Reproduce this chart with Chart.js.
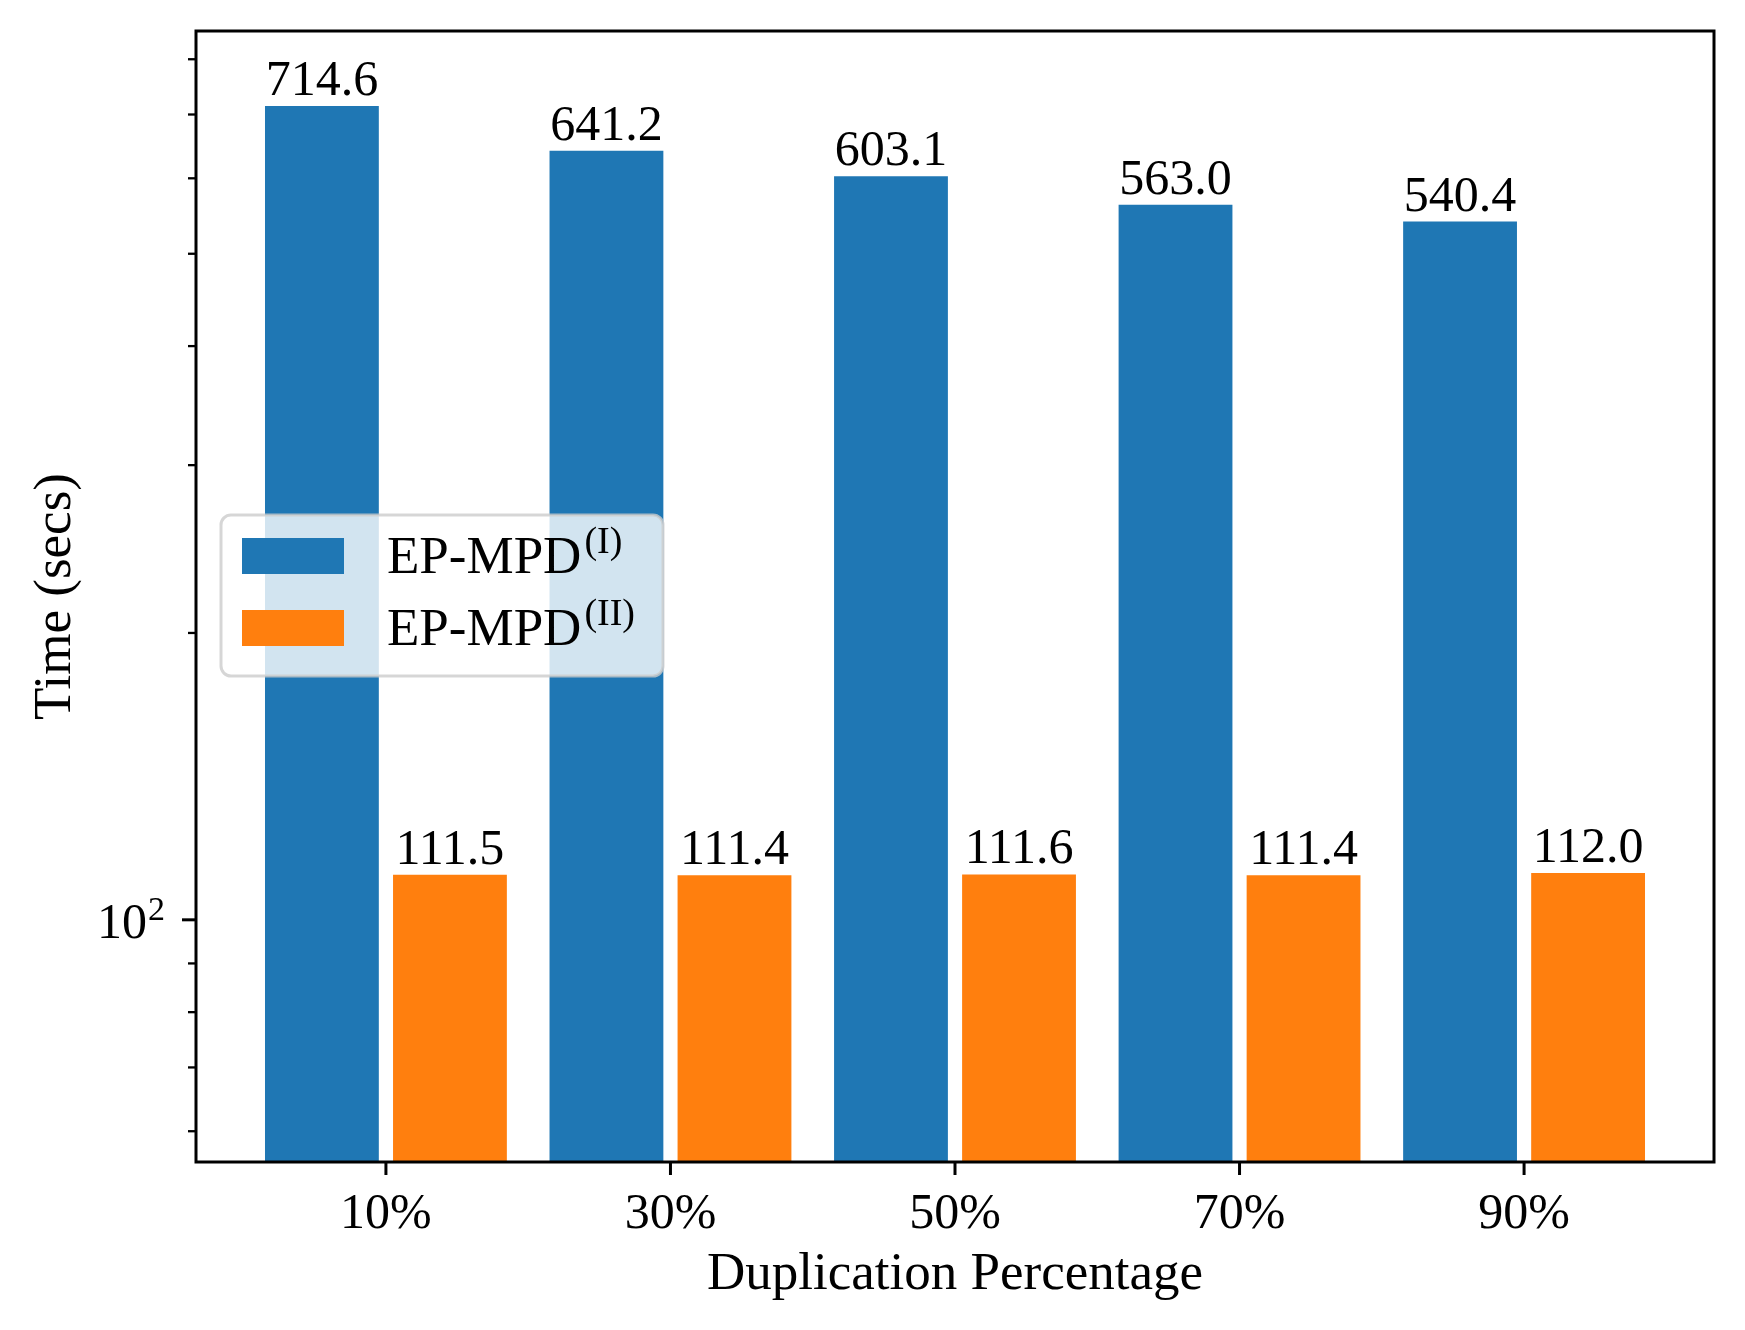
<!DOCTYPE html>
<html>
<head>
<meta charset="utf-8">
<script src="https://cdn.jsdelivr.net/npm/chart.js@4.4.1/dist/chart.umd.min.js"></script>
<style>
  html, body { margin: 0; padding: 0; background: #fff; }
  canvas { display: block; }
</style>
</head>
<body>
<canvas id="chart" width="1745" height="1330"></canvas>
<script>
// data
const categories = ['10%', '30%', '50%', '70%', '90%'];
const positions = [0, 1, 2, 3, 4];
const epmpd1 = [714.6, 641.2, 603.1, 563.0, 540.4];
const epmpd2 = [111.5, 111.4, 111.6, 111.4, 112.0];
const seriesNames = ['EP-MPD', 'EP-MPD'];
const seriesSup = ['(I)', '(II)'];
const seriesColors = ['#1f77b4', '#ff7f0e'];
const yMajorTicks = [100];
const yMinorTicks = [60, 70, 80, 90, 200, 300, 400, 500, 600, 700, 800];

const FONT = '"Liberation Serif", "DejaVu Serif", serif';

function line(ctx, x1, y1, x2, y2) {
    ctx.beginPath();
    ctx.moveTo(x1, y1);
    ctx.lineTo(x2, y2);
    ctx.stroke();
}

const mplAxes = {
    id: 'mplAxes',
    afterDraw(chart) {
        const { ctx, chartArea: a, scales: { x, y } } = chart;
        ctx.save();
        ctx.fillStyle = '#000';
        ctx.strokeStyle = '#000';

        // value labels above bars
        ctx.font = `50px ${FONT}`;
        ctx.textAlign = 'center';
        ctx.textBaseline = 'alphabetic';
        chart.data.datasets.forEach((ds, i) => {
            chart.getDatasetMeta(i).data.forEach((bar, j) => {
                ctx.fillText(ds.data[j].y.toFixed(1), bar.x, bar.y - 11);
            });
        });

        // frame
        ctx.lineWidth = 3;
        ctx.strokeRect(a.left, a.top, a.right - a.left, a.bottom - a.top);

        // x ticks + labels
        positions.forEach((v, i) => {
            const px = x.getPixelForValue(v);
            line(ctx, px, a.bottom, px, a.bottom + 13);
            ctx.fillText(categories[i], px, a.bottom + 66);
        });

        // y major ticks
        yMajorTicks.forEach(v => {
            const py = y.getPixelForValue(v);
            ctx.lineWidth = 3;
            line(ctx, a.left, py, a.left - 14, py);
            const exp = Math.round(Math.log10(v));
            ctx.textAlign = 'right';
            ctx.font = `34px ${FONT}`;
            const supW = ctx.measureText(String(exp)).width;
            ctx.fillText(String(exp), a.left - 31, py);
            ctx.font = `50px ${FONT}`;
            ctx.fillText('10', a.left - 32 - supW, py + 18);
        });

        // y minor ticks
        ctx.lineWidth = 2.3;
        yMinorTicks.forEach(v => {
            const py = y.getPixelForValue(v);
            line(ctx, a.left, py, a.left - 8, py);
        });

        // axis titles
        ctx.font = `53px ${FONT}`;
        ctx.textAlign = 'center';
        ctx.fillText('Duplication Percentage', (a.left + a.right) / 2, a.bottom + 127);
        ctx.save();
        ctx.translate(70, (a.top + a.bottom) / 2);
        ctx.rotate(-Math.PI / 2);
        ctx.fillText('Time (secs)', 0, 0);
        ctx.restore();

        // legend
        const lx = a.left + 25, ly = a.top + 484, lw = 442, lh = 161, r = 10;
        ctx.beginPath();
        ctx.roundRect(lx, ly, lw, lh, r);
        ctx.fillStyle = 'rgba(255,255,255,0.8)';
        ctx.fill();
        ctx.lineWidth = 3;
        ctx.strokeStyle = 'rgba(204,204,204,0.8)';
        ctx.stroke();
        seriesNames.forEach((name, i) => {
            const rowY = ly + 23 + i * 72;
            ctx.fillStyle = seriesColors[i];
            ctx.fillRect(lx + 21, rowY, 102, 36);
            ctx.fillStyle = '#000';
            ctx.textAlign = 'left';
            ctx.font = `53px ${FONT}`;
            const tx = lx + 166, base = rowY + 35;
            ctx.fillText(name, tx, base);
            const w = ctx.measureText(name).width;
            ctx.font = `38px ${FONT}`;
            ctx.fillText(seriesSup[i], tx + w + 3, base - 20);
        });

        ctx.restore();
    }
};

new Chart(document.getElementById('chart'), {
    type: 'bar',
    data: {
        datasets: [epmpd1, epmpd2].map((vals, i) => ({
            label: seriesNames[i] + seriesSup[i],
            data: positions.map((p, j) => ({ x: p, y: vals[j] })),
            backgroundColor: seriesColors[i],
            borderWidth: 0,
            categoryPercentage: 0.9,
            barPercentage: 0.889,
        })),
    },
    options: {
        responsive: false,
        animation: false,
        devicePixelRatio: 1,
        layout: { padding: { top: 31, right: 31, left: 0, bottom: 0 } },
        plugins: {
            legend: { display: false },
            tooltip: { enabled: false },
        },
        scales: {
            x: {
                type: 'linear',
                offset: false,
                min: -0.6675,
                max: 4.6675,
                grid: { display: false },
                border: { display: false },
                ticks: { display: false },
                afterBuildTicks: s => { s.ticks = positions.map(v => ({ value: v })); },
                afterFit: s => { s.height = 168; },
            },
            y: {
                type: 'logarithmic',
                min: 55.7,
                max: 856.5,
                grid: { display: false },
                border: { display: false },
                ticks: { display: false },
                afterBuildTicks: s => { s.min = 55.7; s.max = 856.5; },
                afterFit: s => { s.width = 196; },
            },
        },
    },
    plugins: [mplAxes],
});
</script>
</body>
</html>
